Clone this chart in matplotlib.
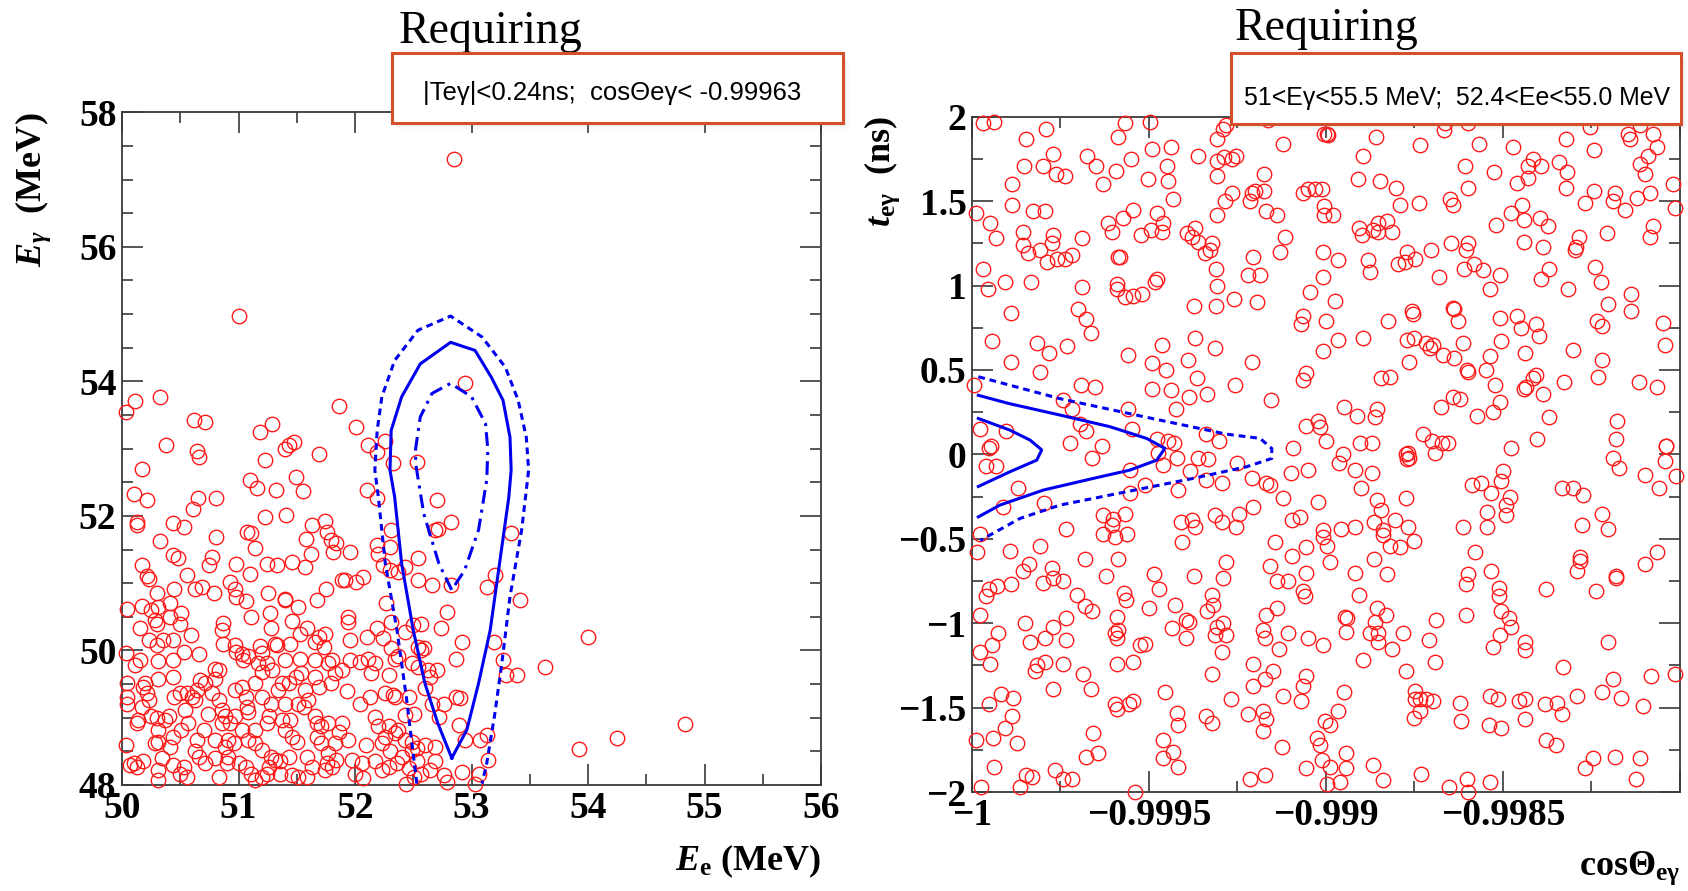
import numpy as np
import matplotlib
matplotlib.use('Agg')
from matplotlib import pyplot as plt
from matplotlib.patches import Rectangle
from matplotlib.ticker import MultipleLocator, FixedLocator, FuncFormatter

plt.rcParams['font.family'] = ['Liberation Serif', 'DejaVu Serif']
plt.rcParams['font.weight'] = 'bold'
plt.rcParams['axes.labelweight'] = 'bold'
plt.rcParams['mathtext.fontset'] = 'custom'
plt.rcParams['mathtext.rm'] = 'Liberation Serif:bold'
plt.rcParams['mathtext.it'] = 'Liberation Serif:italic:bold'
plt.rcParams['mathtext.bf'] = 'Liberation Serif:bold'

# ---- Ee vs Egamma events (left) ----
ee_eg_sparse = [(52.85, 57.30), (51.00, 54.97), (50.11, 53.71), (50.03, 53.54), (50.33, 53.76),
                (50.62, 53.43), (50.71, 53.40), (51.29, 53.36), (51.86, 53.63), (52.01, 53.32),
                (52.94, 53.98), (54.00, 50.20), (53.92, 48.54), (54.25, 48.70), (54.83, 48.90)]

ee_eg_upper = [(50.38, 53.06), (50.64, 52.97), (50.66, 52.87), (50.17, 52.69), (51.18, 53.25), (51.43, 53.05),
               (51.48, 53.10), (51.40, 53.00), (51.23, 52.83), (51.69, 52.92), (51.10, 52.53), (51.16, 52.41),
               (51.32, 52.38), (51.49, 52.58), (51.55, 52.37), (50.10, 52.32), (50.21, 52.23), (50.81, 52.27),
               (50.65, 52.26), (50.61, 52.10), (50.13, 51.91), (50.13, 51.87), (50.44, 51.90), (50.53, 51.83),
               (51.23, 51.99), (51.41, 52.01), (51.63, 51.86), (51.74, 51.92), (51.76, 51.76), (51.79, 51.64),
               (51.81, 51.47), (51.58, 51.66), (51.62, 51.44), (51.07, 51.76), (51.11, 51.74), (51.14, 51.53),
               (50.33, 51.62), (50.81, 51.69), (50.44, 51.42), (50.48, 51.37), (50.77, 51.39), (50.75, 51.27),
               (50.17, 51.27), (50.21, 51.10), (50.23, 51.06), (50.56, 51.12), (50.98, 51.29), (51.10, 51.13),
               (51.24, 51.29), (51.33, 51.27), (51.46, 51.32), (51.57, 51.24)]

ee_eg_middle = [(50.63, 50.91), (50.69, 50.95), (50.79, 50.86), (50.45, 50.91), (50.30, 50.85), (50.93, 51.02),
                (50.97, 50.91), (50.98, 50.80), (51.06, 50.74), (51.25, 50.85), (51.40, 50.77), (51.40, 50.75),
                (51.51, 50.65), (51.67, 50.75), (51.75, 50.92), (51.89, 51.05), (50.04, 50.62), (50.17, 50.66),
                (50.25, 50.60), (50.31, 50.65), (50.41, 50.70), (50.28, 50.45), (50.30, 50.40), (50.41, 50.50),
                (50.51, 50.55), (50.50, 50.40), (50.15, 50.34), (50.23, 50.16), (50.30, 50.08), (50.35, 50.16),
                (50.44, 50.16), (50.59, 50.23), (50.87, 50.41), (50.86, 50.31), (50.87, 50.10), (51.11, 50.49),
                (51.27, 50.55), (51.28, 50.33), (51.46, 50.44), (51.59, 50.34), (51.53, 50.25), (51.31, 50.10),
                (51.33, 50.08), (51.44, 50.10), (51.66, 50.13), (51.69, 50.20), (51.73, 50.05), (51.74, 50.25),
                (50.03, 49.96), (50.11, 49.78), (50.15, 49.86), (50.31, 49.85), (50.44, 49.86), (50.53, 49.98),
                (50.66, 49.95), (50.97, 50.08), (50.98, 49.98), (51.03, 49.95), (51.04, 49.86), (51.08, 49.91),
                (51.18, 50.06), (51.20, 49.96), (51.17, 49.82), (51.24, 49.81), (51.40, 49.86), (51.53, 49.88),
                (51.66, 49.86), (51.77, 49.81)]

ee_eg_lower = [(50.04, 49.51), (50.04, 49.31), (50.04, 49.21), (50.03, 48.59), (50.10, 48.32), (50.07, 48.30),
               (50.18, 48.35), (50.13, 48.27), (50.20, 49.51), (50.21, 49.36), (50.23, 49.26), (50.17, 49.16),
               (50.18, 49.46), (50.14, 48.97), (50.13, 48.92), (50.25, 49.02), (50.30, 48.99), (50.31, 49.58),
               (50.44, 49.61), (50.45, 49.31), (50.50, 49.36), (50.31, 48.82), (50.37, 48.97), (50.40, 49.02),
               (50.31, 48.64), (50.28, 48.62), (50.56, 49.36), (50.60, 49.31), (50.63, 49.26), (50.64, 49.41),
               (50.54, 49.11), (50.57, 48.92), (50.51, 48.82), (50.44, 48.72), (50.41, 48.57), (50.34, 48.40),
               (50.44, 48.30), (50.50, 48.17), (50.56, 48.12), (50.53, 48.27), (50.31, 48.22), (50.31, 48.07),
               (50.67, 49.56), (50.71, 49.51), (50.80, 49.73), (50.83, 49.71), (50.80, 49.58), (50.77, 49.36),
               (50.83, 49.26), (50.86, 49.11), (50.88, 49.02), (50.86, 48.92), (50.74, 49.06), (50.70, 48.82),
               (50.64, 48.67), (50.63, 48.50), (50.66, 48.42), (50.71, 48.32), (50.80, 48.40), (50.83, 48.12),
               (50.90, 48.32), (50.88, 48.57), (50.91, 48.67), (50.80, 48.67), (50.97, 49.41), (51.03, 49.46),
               (51.06, 49.31), (51.07, 49.16), (51.08, 49.09), (51.03, 48.82), (51.08, 48.67), (51.14, 48.62),
               (51.06, 48.27), (51.11, 48.17), (51.14, 48.07), (51.20, 48.12), (51.24, 48.17), (51.26, 48.27),
               (51.20, 49.68), (51.29, 49.71), (51.37, 49.51), (51.34, 49.41), (51.43, 49.51), (51.49, 49.61),
               (51.54, 49.66), (51.40, 49.21), (51.37, 48.97), (51.44, 48.97), (51.40, 48.82), (51.46, 48.72),
               (51.50, 48.64), (51.43, 48.42), (51.36, 48.35), (51.36, 48.17), (51.46, 48.15), (51.51, 48.12),
               (51.59, 48.12), (51.63, 48.27), (51.59, 48.42), (51.51, 49.21), (51.56, 49.16), (51.60, 49.26),
               (51.57, 49.41), (51.66, 49.61), (51.69, 49.46), (51.66, 49.02), (51.67, 48.92), (51.71, 48.87),
               (51.77, 48.92), (51.67, 48.72), (51.71, 48.62), (51.77, 48.47), (51.76, 48.32), (51.74, 48.22),
               (51.80, 48.27), (51.84, 48.37), (51.83, 48.62), (51.86, 48.79), (51.89, 48.92), (51.79, 49.51),
               (51.83, 49.66), (51.89, 49.71), (51.80, 49.86), (51.14, 49.51), (51.20, 49.31), (51.28, 49.21),
               (51.26, 49.02), (51.24, 48.92), (51.14, 48.82), (51.20, 48.52), (51.28, 48.42), (51.31, 48.37),
               (50.93, 48.92), (50.97, 49.02), (50.96, 48.62), (50.91, 48.42), (51.00, 48.32)]

ee_eg_signal = [(52.11, 53.05), (52.19, 52.95), (52.26, 53.12), (52.33, 52.78), (52.53, 52.80), (52.10, 52.38),
                (52.19, 52.26), (52.70, 52.23), (52.69, 51.79), (52.71, 51.81), (52.82, 51.91), (52.31, 51.79),
                (52.19, 51.56), (52.20, 51.44), (52.30, 51.54), (52.24, 51.27), (52.30, 51.19), (52.37, 51.17),
                (52.43, 51.24), (51.84, 51.59), (51.96, 51.47), (51.91, 51.04), (52.01, 51.02), (52.07, 51.09),
                (52.54, 51.37), (52.54, 51.04), (52.66, 50.97), (52.82, 50.97), (53.34, 51.74), (53.20, 51.12),
                (53.13, 50.95), (53.42, 50.75), (52.27, 50.70), (52.79, 50.57), (51.94, 50.50), (51.94, 50.43),
                (52.31, 50.43), (52.50, 50.38), (52.57, 50.40), (52.43, 50.28), (51.96, 50.15), (52.10, 50.20),
                (52.19, 50.33), (52.24, 50.18), (52.31, 50.03), (52.37, 49.91), (52.54, 50.05), (52.59, 50.03),
                (52.57, 50.00), (52.74, 50.33), (52.92, 50.13), (52.87, 49.88), (53.19, 50.13), (53.27, 49.86),
                (53.30, 49.63), (53.39, 49.63), (53.63, 49.76), (51.96, 49.86), (52.04, 49.83), (52.11, 49.88),
                (52.17, 49.81), (52.14, 49.66), (52.29, 49.63), (52.34, 49.88), (52.49, 49.81), (52.54, 49.76),
                (52.63, 49.71), (52.70, 49.71), (52.64, 49.61), (51.93, 49.39), (52.04, 49.21), (52.13, 49.31),
                (52.26, 49.36), (52.33, 49.34), (52.34, 49.31), (52.46, 49.31), (52.60, 49.44), (52.76, 49.21),
                (52.87, 49.31), (52.90, 49.29), (52.66, 49.21), (52.72, 49.01), (52.51, 49.06), (52.43, 49.04),
                (51.94, 48.67), (52.09, 48.59), (52.17, 49.01), (52.20, 48.87), (52.29, 48.87), (52.34, 48.77),
                (52.37, 48.82), (52.26, 48.72), (52.23, 48.62), (52.30, 48.50), (52.43, 48.67), (52.49, 48.64),
                (52.49, 48.52), (52.53, 48.55), (52.60, 48.59), (52.69, 48.57), (52.89, 48.89), (52.94, 48.67),
                (53.07, 48.67), (53.13, 48.74), (53.14, 48.37), (51.97, 48.37), (52.06, 48.32), (52.00, 48.17),
                (52.07, 48.10), (52.17, 48.35), (52.23, 48.22), (52.29, 48.27), (52.36, 48.32), (52.40, 48.42),
                (52.46, 48.25), (52.53, 48.35), (52.51, 48.12), (52.44, 48.02), (52.57, 48.17), (52.64, 48.22),
                (52.69, 48.35), (52.76, 48.15), (52.79, 48.05), (52.92, 48.20), (53.06, 48.17), (53.03, 48.02)]

# signal PDF contours in (Ee, Egamma)
sig_outer = [(52.53, 48.02), (52.44, 49.31), (52.36, 50.30), (52.26, 51.29), (52.20, 52.28), (52.17, 52.68),
             (52.19, 53.27), (52.23, 53.77), (52.34, 54.31), (52.54, 54.76), (52.82, 54.97), (53.09, 54.66),
             (53.29, 54.21), (53.40, 53.72), (53.47, 53.17), (53.49, 52.68), (53.43, 51.79), (53.33, 50.80),
             (53.26, 49.81), (53.20, 49.06), (53.13, 48.32), (53.09, 48.02)]
sig_middle = [(52.83, 48.40), (52.71, 48.92), (52.60, 49.51), (52.50, 50.30), (52.40, 51.29), (52.34, 52.28),
              (52.30, 52.68), (52.31, 53.27), (52.40, 53.77), (52.56, 54.26), (52.82, 54.58), (53.03, 54.46),
              (53.17, 54.06), (53.27, 53.72), (53.33, 53.17), (53.34, 52.68), (53.32, 52.28), (53.24, 51.29),
              (53.16, 50.30), (53.06, 49.51), (52.96, 48.82), (52.83, 48.40)]
sig_inner = [(52.83, 50.90), (52.72, 51.29), (52.59, 52.03), (52.52, 52.78), (52.52, 53.00), (52.56, 53.47),
             (52.66, 53.82), (52.82, 53.97), (53.00, 53.77), (53.12, 53.37), (53.14, 52.98), (53.13, 52.53),
             (53.06, 51.79), (52.94, 51.19), (52.83, 50.90)]

# ---- cos(theta) vs t events (right) ----
ct_upper_left = [(-0.999970, 1.96), (-0.999937, 1.97), (-0.999847, 1.87), (-0.999791, 1.93), (-0.999770, 1.78),
                 (-0.999798, 1.71), (-0.999853, 1.71), (-0.999763, 1.66), (-0.999737, 1.65), (-0.999888, 1.60),
                 (-0.999888, 1.48), (-0.999989, 1.43), (-0.999949, 1.37), (-0.999932, 1.28), (-0.999827, 1.44),
                 (-0.999794, 1.44), (-0.999855, 1.32), (-0.999855, 1.24), (-0.999841, 1.19), (-0.999808, 1.21),
                 (-0.999770, 1.30), (-0.999775, 1.25), (-0.999787, 1.14), (-0.999761, 1.16), (-0.999737, 1.16),
                 (-0.999718, 1.18), (-0.999690, 1.28), (-0.999970, 1.10), (-0.999956, 0.98), (-0.999907, 1.02),
                 (-0.999833, 1.02), (-0.999890, 0.84), (-0.999942, 0.67), (-0.999890, 0.55), (-0.999817, 0.66),
                 (-0.999782, 0.60), (-0.999808, 0.49), (-0.999731, 0.64), (-0.999994, 0.41), (-0.999690, 0.99),
                 (-0.999699, 0.86), (-0.999678, 0.80), (-0.999664, 0.72), (-0.999692, 0.41), (-0.999653, 0.40),
                 (-0.999742, 0.32), (-0.999716, 0.27), (-0.999695, 0.18), (-0.999678, 0.14), (-0.999977, 0.15),
                 (-0.999904, 0.14), (-0.999947, 0.05), (-0.999723, 0.07), (-0.999634, 0.05), (-0.999676, 1.77),
                 (-0.999650, 1.71), (-0.999629, 1.60), (-0.999593, 1.68), (-0.999587, 1.88), (-0.999568, 1.96),
                 (-0.999552, 1.75), (-0.999615, 1.37), (-0.999604, 1.32), (-0.999573, 1.40), (-0.999544, 1.45),
                 (-0.999588, 1.17), (-0.999582, 1.17), (-0.999590, 1.01), (-0.999591, 0.98), (-0.999568, 0.93),
                 (-0.999544, 0.94), (-0.999521, 0.95), (-0.999523, 1.30), (-0.999494, 1.33), (-0.999502, 1.63),
                 (-0.999490, 1.81), (-0.999497, 1.97), (-0.999478, 1.43), (-0.999461, 1.37), (-0.999462, 1.32),
                 (-0.999478, 1.04), (-0.999483, 1.02), (-0.999445, 1.62), (-0.999448, 1.71), (-0.999439, 1.82),
                 (-0.999431, 1.51), (-0.999558, 0.59), (-0.999492, 0.54), (-0.999453, 0.50), (-0.999464, 0.65),
                 (-0.999490, 0.39), (-0.999439, 0.38), (-0.999558, 0.27), (-0.999549, 0.15), (-0.999478, 0.09),
                 (-0.999445, 0.08), (-0.999392, 1.31), (-0.999369, 1.34), (-0.999378, 1.29), (-0.999360, 1.26),
                 (-0.999341, 1.19), (-0.999328, 1.21), (-0.999323, 1.25), (-0.999428, 0.07), (-0.999389, 0.56),
                 (-0.999370, 0.69), (-0.999363, 0.45), (-0.999337, 0.36), (-0.999386, 0.34), (-0.999424, 0.27),
                 (-0.999339, 0.12), (-0.999301, 0.08), (-0.999361, 1.77), (-0.999309, 1.65), (-0.999309, 1.74),
                 (-0.999288, 1.76), (-0.999264, 1.75), (-0.999253, 1.77), (-0.999307, 1.87), (-0.999290, 1.93),
                 (-0.999281, 1.95), (-0.999309, 1.42), (-0.999286, 1.50), (-0.999266, 1.55), (-0.999311, 1.10),
                 (-0.999307, 1.00), (-0.999311, 0.88), (-0.999259, 0.92), (-0.999312, 0.63), (-0.999257, 0.41),
                 (-0.999372, 0.88), (-0.999215, 1.50), (-0.999208, 1.55), (-0.999201, 1.56), (-0.999175, 1.56),
                 (-0.999175, 1.66), (-0.999168, 1.44), (-0.999139, 1.42), (-0.999205, 1.17), (-0.999130, 1.20),
                 (-0.999116, 1.29), (-0.999219, 1.06), (-0.999186, 1.06), (-0.999196, 0.90), (-0.999210, 0.55),
                 (-0.999156, 0.32), (-0.999163, 1.98), (-0.999122, 1.84), (-0.999064, 1.55), (-0.999050, 1.57),
                 (-0.999031, 1.57), (-0.999012, 1.57), (-0.999064, 0.82), (-0.999069, 0.77), (-0.999045, 0.96),
                 (-0.999008, 1.05), (-0.999008, 1.20), (-0.999008, 0.61), (-0.999064, 0.44), (-0.999055, 0.48),
                 (-0.999055, 0.17), (-0.999022, 0.20), (-0.999017, 0.16), (-0.999092, 0.04), (-0.999006, 1.90),
                 (-0.999006, 1.47), (-0.999006, 1.42)]

ct_upper_right = [(-0.998998, 1.90), (-0.998993, 1.89), (-0.998859, 1.88), (-0.998895, 1.77), (-0.998909, 1.63),
                  (-0.998847, 1.62), (-0.998802, 1.58), (-0.998791, 1.48), (-0.998736, 1.49), (-0.998734, 1.83),
                  (-0.998664, 1.96), (-0.998667, 1.92), (-0.998598, 1.96), (-0.998607, 1.71), (-0.998600, 1.58),
                  (-0.998649, 1.51), (-0.998642, 1.48), (-0.998567, 1.84), (-0.998525, 1.67), (-0.998471, 1.82),
                  (-0.998461, 1.61), (-0.998428, 1.64), (-0.998428, 1.71), (-0.998414, 1.75), (-0.998391, 1.71),
                  (-0.998477, 1.43), (-0.998447, 1.48), (-0.998441, 1.39), (-0.998395, 1.40), (-0.998374, 1.35),
                  (-0.998520, 1.36), (-0.998441, 1.26), (-0.998388, 1.23), (-0.998341, 1.73), (-0.998318, 1.67),
                  (-0.998322, 1.87), (-0.998323, 1.58), (-0.998243, 1.56), (-0.998267, 1.49), (-0.998254, 1.94),
                  (-0.998242, 1.80), (-0.998183, 1.55), (-0.998188, 1.50), (-0.998155, 1.45), (-0.998122, 1.52),
                  (-0.998085, 1.55), (-0.998146, 1.90), (-0.998141, 1.87), (-0.998113, 1.95), (-0.998077, 1.90),
                  (-0.998066, 1.82), (-0.998089, 1.77), (-0.998113, 1.72), (-0.998099, 1.66), (-0.998019, 1.60),
                  (-0.998014, 1.46), (-0.998075, 1.35), (-0.998085, 1.29), (-0.998207, 1.31), (-0.998284, 1.29),
                  (-0.998294, 1.23), (-0.998297, 1.21), (-0.998979, 1.42), (-0.998906, 1.34), (-0.998899, 1.30),
                  (-0.998866, 1.33), (-0.998852, 1.37), (-0.998852, 1.32), (-0.998828, 1.38), (-0.998812, 1.32),
                  (-0.998965, 1.15), (-0.998880, 1.15), (-0.998876, 1.08), (-0.998796, 1.13), (-0.998777, 1.14),
                  (-0.998772, 1.20), (-0.998749, 1.16), (-0.998702, 1.21), (-0.998647, 1.25), (-0.998598, 1.25),
                  (-0.998603, 1.21), (-0.998680, 1.05), (-0.998610, 1.10), (-0.998581, 1.13), (-0.998557, 1.09),
                  (-0.998508, 1.06), (-0.998536, 0.98), (-0.998391, 1.04), (-0.998369, 1.10), (-0.998315, 0.98),
                  (-0.998240, 1.11), (-0.998223, 1.02), (-0.998975, 0.91), (-0.999000, 0.79), (-0.998824, 0.79),
                  (-0.998758, 0.85), (-0.998753, 0.83), (-0.998640, 0.87), (-0.998637, 0.86), (-0.998626, 0.79),
                  (-0.998508, 0.81), (-0.998461, 0.82), (-0.998449, 0.75), (-0.998407, 0.77), (-0.998399, 0.70),
                  (-0.998202, 0.89), (-0.998137, 0.95), (-0.998137, 0.85), (-0.998235, 0.79), (-0.998219, 0.76),
                  (-0.998047, 0.78), (-0.998042, 0.65), (-0.998965, 0.68), (-0.998896, 0.69), (-0.998772, 0.68),
                  (-0.998751, 0.69), (-0.998716, 0.66), (-0.998706, 0.63), (-0.998698, 0.65), (-0.998612, 0.66),
                  (-0.998506, 0.67), (-0.998438, 0.60), (-0.998669, 0.59), (-0.998638, 0.57), (-0.998765, 0.55),
                  (-0.998602, 0.50), (-0.998600, 0.49), (-0.998548, 0.50), (-0.998537, 0.58), (-0.998523, 0.41),
                  (-0.998843, 0.45), (-0.998820, 0.46), (-0.998440, 0.39), (-0.998435, 0.40), (-0.998414, 0.45),
                  (-0.998407, 0.47), (-0.998386, 0.36), (-0.998327, 0.43), (-0.998303, 0.62), (-0.998219, 0.56),
                  (-0.998231, 0.46), (-0.998116, 0.43), (-0.998064, 0.40), (-0.998675, 0.28), (-0.998642, 0.34),
                  (-0.998620, 0.33), (-0.998508, 0.31), (-0.998527, 0.25), (-0.998574, 0.23), (-0.998949, 0.28),
                  (-0.998911, 0.23), (-0.998857, 0.27), (-0.998862, 0.22), (-0.999000, 0.08), (-0.998904, 0.07),
                  (-0.998871, 0.07), (-0.998725, 0.12), (-0.998701, 0.08), (-0.998673, 0.07), (-0.998656, 0.07),
                  (-0.998767, 0.01), (-0.998477, 0.04), (-0.998405, 0.09), (-0.998369, 0.22), (-0.998179, 0.20),
                  (-0.998181, 0.09), (-0.998038, 0.05)]

ct_lower_left = [(-0.999951, 0.04), (-0.999959, -0.07), (-0.999932, -0.07), (-0.999869, -0.20), (-0.999911, -0.31),
                 (-0.999797, -0.29), (-0.999734, -0.44), (-0.999662, -0.02), (-0.999554, -0.09), (-0.999554, -0.23),
                 (-0.999511, -0.18), (-0.999474, 0.01), (-0.999460, -0.06), (-0.999422, -0.02), (-0.999417, -0.21),
                 (-0.999384, -0.10), (-0.999361, -0.02), (-0.999339, -0.15), (-0.999332, -0.03), (-0.999295, -0.17),
                 (-0.999252, -0.05), (-0.999210, -0.14), (-0.999168, -0.17), (-0.999158, -0.18), (-0.999099, -0.11),
                 (-0.999050, -0.09), (-0.999022, -0.28), (-0.999121, -0.26), (-0.999629, -0.36), (-0.999601, -0.38),
                 (-0.999605, -0.42), (-0.999568, -0.35), (-0.999629, -0.47), (-0.999596, -0.49), (-0.999563, -0.47),
                 (-0.999808, -0.54), (-0.999893, -0.57), (-0.999987, -0.58), (-0.999977, -0.47), (-0.999410, -0.40),
                 (-0.999379, -0.39), (-0.999370, -0.43), (-0.999408, -0.52), (-0.999314, -0.36), (-0.999295, -0.40),
                 (-0.999245, -0.35), (-0.999254, -0.43), (-0.999207, -0.31), (-0.999097, -0.39), (-0.999073, -0.37),
                 (-0.999144, -0.52), (-0.999008, -0.45), (-0.999008, -0.49), (-0.998998, -0.54), (-0.999097, -0.60),
                 (-0.999055, -0.55), (-0.999681, -0.62), (-0.999587, -0.62), (-0.999838, -0.65), (-0.999855, -0.69),
                 (-0.999775, -0.67), (-0.999742, -0.75), (-0.999798, -0.76), (-0.999772, -0.73), (-0.999891, -0.77),
                 (-0.999930, -0.78), (-0.999951, -0.80), (-0.999959, -0.84), (-0.999621, -0.72), (-0.999704, -0.83),
                 (-0.999681, -0.90), (-0.999660, -0.93), (-0.999485, -0.71), (-0.999471, -0.80), (-0.999570, -0.82),
                 (-0.999566, -0.86), (-0.999499, -0.91), (-0.999427, -0.89), (-0.999372, -0.72), (-0.999290, -0.73),
                 (-0.999281, -0.64), (-0.999323, -0.83), (-0.999318, -0.89), (-0.999337, -0.93), (-0.999394, -0.98),
                 (-0.999386, -0.99), (-0.999436, -1.03), (-0.999394, -1.09), (-0.999309, -1.02), (-0.999290, -1.00),
                 (-0.999282, -1.07), (-0.999295, -1.17), (-0.999314, -1.07), (-0.999323, -1.30), (-0.999158, -0.66),
                 (-0.999139, -0.75), (-0.999106, -0.75), (-0.999139, -0.91), (-0.999168, -0.95), (-0.999179, -1.04),
                 (-0.999172, -1.09), (-0.999132, -1.15), (-0.999106, -1.06), (-0.999064, -0.81), (-0.999055, -0.70),
                 (-0.999060, -0.84), (-0.999050, -1.09), (-0.999008, -1.13), (-0.999205, -1.24), (-0.999205, -1.37),
                 (-0.999172, -1.33), (-0.999149, -1.28), (-0.999121, -1.43), (-0.999064, -1.37), (-0.999055, -1.31),
                 (-0.999069, -1.46), (-0.999268, -1.45), (-0.999219, -1.54), (-0.999177, -1.52), (-0.999168, -1.57),
                 (-0.999177, -1.64), (-0.999125, -1.73), (-0.999215, -1.92), (-0.999172, -1.90), (-0.999055, -1.86),
                 (-0.999026, -1.68), (-0.999017, -1.72), (-0.999012, -1.81), (-0.999003, -1.58), (-0.998998, -1.95),
                 (-0.999339, -1.55), (-0.999323, -1.59), (-0.999422, -1.53), (-0.999417, -1.60), (-0.999455, -1.41),
                 (-0.999461, -1.69), (-0.999431, -1.76), (-0.999460, -1.80), (-0.999419, -1.85), (-0.999540, -2.00),
                 (-0.999596, -1.48), (-0.999591, -1.51), (-0.999556, -1.48), (-0.999544, -1.46), (-0.999591, -1.24),
                 (-0.999544, -1.23), (-0.999596, -1.06), (-0.999591, -1.09), (-0.999587, -1.04), (-0.999525, -1.13),
                 (-0.999511, -1.12), (-0.999591, -0.96), (-0.999687, -1.30), (-0.999664, -1.39), (-0.999770, -1.39),
                 (-0.999659, -1.65), (-0.999678, -1.79), (-0.999643, -1.77), (-0.999766, -1.87), (-0.999744, -1.92),
                 (-0.999718, -1.92), (-0.999846, -1.90), (-0.999831, -1.91), (-0.999864, -1.97), (-0.999937, -1.85),
                 (-0.999975, -1.97), (-0.999989, -1.69), (-0.999940, -1.68), (-0.999907, -1.62), (-0.999872, -1.71),
                 (-0.999888, -1.55), (-0.999918, -1.42), (-0.999883, -1.44), (-0.999951, -1.48), (-0.999817, -1.25),
                 (-0.999822, -1.28), (-0.999794, -1.23), (-0.999744, -1.24), (-0.999850, -1.00), (-0.999836, -1.11),
                 (-0.999794, -1.09), (-0.999770, -1.02), (-0.999733, -0.97), (-0.999733, -1.10), (-0.999977, -1.17),
                 (-0.999944, -1.13), (-0.999949, -1.24), (-0.999926, -1.06), (-0.999976, -0.95)]

ct_lower_right = [(-0.998951, 0.00), (-0.998962, -0.05), (-0.998918, -0.09), (-0.998871, -0.11), (-0.998902, -0.20),
                  (-0.998774, 0.00), (-0.998770, -0.03), (-0.998764, -0.02), (-0.998692, 0.01), (-0.998855, -0.27),
                  (-0.998843, -0.33), (-0.998863, -0.40), (-0.998838, -0.45), (-0.998838, -0.48), (-0.998819, -0.54),
                  (-0.998805, -0.39), (-0.998791, -0.55), (-0.998767, -0.43), (-0.998751, -0.51), (-0.998774, -0.26),
                  (-0.998989, -0.64), (-0.998956, -0.44), (-0.998918, -0.43), (-0.998864, -0.62), (-0.998918, -0.70),
                  (-0.998828, -0.71), (-0.998906, -0.83), (-0.998855, -0.91), (-0.998830, -0.95), (-0.998861, -0.99),
                  (-0.998876, -1.06), (-0.998852, -1.06), (-0.998852, -1.11), (-0.998814, -1.15), (-0.998781, -1.06),
                  (-0.998946, -0.96), (-0.998940, -0.97), (-0.998943, -1.05), (-0.998895, -1.22), (-0.998774, -1.28),
                  (-0.998689, -0.98), (-0.998709, -1.10), (-0.998692, -1.23), (-0.998749, -1.40), (-0.998749, -1.45),
                  (-0.998735, -1.45), (-0.998718, -1.45), (-0.998697, -1.46), (-0.998751, -1.56), (-0.998734, -1.52),
                  (-0.998949, -1.41), (-0.998965, -1.52), (-0.998989, -1.60), (-0.998943, -1.77), (-0.998943, -1.86),
                  (-0.998989, -1.85), (-0.998866, -1.84), (-0.998838, -1.93), (-0.998959, -1.94), (-0.998732, -1.89),
                  (-0.998652, -1.97), (-0.998602, -1.92), (-0.998600, -2.00), (-0.998537, -1.94), (-0.998621, -1.47),
                  (-0.998617, -1.58), (-0.998537, -1.43), (-0.998514, -1.45), (-0.998539, -1.60), (-0.998504, -1.62),
                  (-0.998454, -1.46), (-0.998438, -1.45), (-0.998438, -1.57), (-0.998381, -1.48), (-0.998348, -1.47),
                  (-0.998334, -1.54), (-0.998377, -1.69), (-0.998350, -1.72), (-0.998290, -1.43), (-0.998221, -1.41),
                  (-0.998190, -1.33), (-0.998165, -1.44), (-0.998104, -1.49), (-0.998083, -1.31), (-0.998014, -1.30),
                  (-0.998329, -1.26), (-0.998202, -1.11), (-0.998268, -1.86), (-0.998245, -1.80), (-0.998184, -1.79),
                  (-0.998113, -1.80), (-0.998124, -1.92), (-0.998600, -0.71), (-0.998603, -0.77), (-0.998534, -0.69),
                  (-0.998603, -0.95), (-0.998579, -0.58), (-0.998614, -0.43), (-0.998546, -0.34), (-0.998546, -0.43),
                  (-0.998504, -0.16), (-0.998499, -0.10), (-0.998535, -0.23), (-0.998480, -0.25), (-0.998490, -0.30),
                  (-0.998490, -0.36), (-0.998586, -0.18), (-0.998563, -0.17), (-0.998510, -0.79), (-0.998511, -0.84),
                  (-0.998504, -0.93), (-0.998482, -0.97), (-0.998478, -1.02), (-0.998508, -1.07), (-0.998527, -1.14),
                  (-0.998438, -1.11), (-0.998438, -1.16), (-0.998379, -0.80), (-0.998334, -0.20), (-0.998303, -0.20),
                  (-0.998273, -0.24), (-0.998276, -0.42), (-0.998221, -0.35), (-0.998202, -0.44), (-0.998282, -0.61),
                  (-0.998281, -0.63), (-0.998290, -0.69), (-0.998237, -0.81), (-0.998181, -0.72), (-0.998180, -0.73),
                  (-0.998190, -0.02), (-0.998172, -0.08), (-0.998100, -0.12), (-0.998058, -0.20), (-0.998042, -0.04),
                  (-0.998039, 0.05), (-0.998011, -0.13), (-0.998100, -0.65), (-0.998064, -0.58)]

# signal PDF contours in (cos, t)
tc_outer = [(-0.999982, 0.46), (-0.999751, 0.33), (-0.999507, 0.22), (-0.999281, 0.12), (-0.999186, 0.095),
            (-0.999153, 0.035), (-0.999153, -0.024), (-0.999224, -0.073), (-0.999375, -0.142), (-0.999563, -0.221),
            (-0.999751, -0.30), (-0.999864, -0.379), (-0.999977, -0.51)]
tc_middle = [(-0.999982, 0.35), (-0.999893, 0.30), (-0.999751, 0.233), (-0.999610, 0.164), (-0.999507, 0.095),
             (-0.999455, 0.036), (-0.999478, -0.034), (-0.999554, -0.093), (-0.999657, -0.142), (-0.999798, -0.211),
             (-0.999921, -0.30), (-0.999982, -0.37)]
tc_inner = [(-0.999982, 0.213), (-0.999893, 0.144), (-0.999836, 0.085), (-0.999808, 0.036), (-0.999803, 0.026),
            (-0.999817, -0.034), (-0.999893, -0.103), (-0.999982, -0.19)]

left_cuts = '|Teγ|<0.24ns;  cosΘeγ< -0.99963'
right_cuts = '51<Eγ<55.5 MeV;  52.4<Ee<55.0 MeV'


def minus(v, pos=None):
    return ('%g' % v).replace('-', '\u2212')


def style_axes(ax):
    for sp in ax.spines.values():
        sp.set_linewidth(1.3)
        sp.set_color('#3a3a3a')
    ax.tick_params(which='both', direction='in', top=True, right=True, color='#3a3a3a', width=1.2,
                   labelsize=27, pad=4)
    ax.tick_params(which='major', length=15)
    ax.tick_params(which='minor', length=8)
    for lab in ax.get_xticklabels() + ax.get_yticklabels():
        lab.set_fontweight('bold')


def draw_events(ax, groups):
    for g in groups:
        arr = np.array(g)
        ax.plot(arr[:, 0], arr[:, 1], 'o', ls='none', mfc='none', mec='#ff1a1a', ms=10.4, mew=1.0,
                clip_on=False, zorder=3)


def draw_contour(ax, pts, ls):
    arr = np.array(pts)
    ax.plot(arr[:, 0], arr[:, 1], color='#0000ee', lw=2.2, ls=ls, zorder=4)


fig = plt.figure(figsize=(16.88, 8.91), dpi=100)

# left panel
ax1 = fig.add_axes([0.0723, 0.119, 0.4141, 0.755])
draw_events(ax1, [ee_eg_sparse, ee_eg_upper, ee_eg_middle, ee_eg_lower, ee_eg_signal])
draw_contour(ax1, sig_outer, (0, (2.2, 1.6)))
draw_contour(ax1, sig_middle, '-')
draw_contour(ax1, sig_inner, (0, (4.5, 2.0, 1.0, 2.0)))
ax1.set_xlim(50, 56)
ax1.set_ylim(48, 58)
ax1.xaxis.set_major_locator(MultipleLocator(1))
ax1.xaxis.set_minor_locator(MultipleLocator(0.5))
ax1.yaxis.set_major_locator(MultipleLocator(2))
ax1.yaxis.set_minor_locator(MultipleLocator(0.5))
ax1.xaxis.set_major_formatter(FuncFormatter(minus))
ax1.yaxis.set_major_formatter(FuncFormatter(minus))
style_axes(ax1)
ax1.set_xlabel(r'$E_{\mathrm{e}}$ (MeV)', fontsize=26, loc='right')
ax1.xaxis.set_label_coords(1.0, -0.114)
ax1.xaxis.label.set_va('center')
ax1.set_ylabel(r'$E_{\gamma}$  (MeV)', fontsize=26, loc='top')
ax1.yaxis.set_label_coords(-0.127, 1.0)
ax1.yaxis.label.set_va('center')

# right panel
ax2 = fig.add_axes([0.5758, 0.111, 0.4194, 0.758])
draw_events(ax2, [ct_upper_left, ct_upper_right, ct_lower_left, ct_lower_right])
draw_contour(ax2, tc_outer, (0, (2.2, 1.6)))
draw_contour(ax2, tc_middle, '-')
draw_contour(ax2, tc_inner, '-')
ax2.set_xlim(-1.0, -0.998)
ax2.set_ylim(-2, 2)
ax2.xaxis.set_major_locator(FixedLocator([-1.0, -0.9995, -0.999, -0.9985, -0.998]))
ax2.xaxis.set_minor_locator(MultipleLocator(0.00025))
ax2.yaxis.set_major_locator(MultipleLocator(0.5))
ax2.yaxis.set_minor_locator(MultipleLocator(0.25))
ax2.xaxis.set_major_formatter(FuncFormatter(lambda v, p: '' if v > -0.99805 else minus(round(v, 5))))
ax2.yaxis.set_major_formatter(FuncFormatter(minus))
style_axes(ax2)
ax2.set_xlabel(r'cos$\Theta_{\mathrm{e\gamma}}$', fontsize=26, loc='right')
ax2.xaxis.set_label_coords(1.0, -0.113)
ax2.xaxis.label.set_va('center')
ax2.set_ylabel(r'$t_{\mathrm{e\gamma}}$  (ns)', fontsize=26, loc='top')
ax2.yaxis.set_label_coords(-0.127, 1.0)
ax2.yaxis.label.set_va('center')

# "Requiring" headers and cut boxes
box_font = ['Liberation Sans', 'DejaVu Sans']
for x0, y0, w, h, hx, hy, tx, ty, txt, fs in [
        (0.2322, 0.862, 0.2672, 0.0786, 0.2364, 0.9517, 0.2506, 0.8878, left_cuts, 18.5),
        (0.7293, 0.861, 0.2666, 0.0797, 0.7316, 0.9551, 0.7370, 0.8822, right_cuts, 17.9)]:
    fig.text(hx, hy, 'Requiring', fontsize=33, fontweight='normal', family=['Liberation Serif'],
             va='baseline', ha='left')
    for k, a in enumerate([0.10, 0.07, 0.04]):
        off = (k + 1) * 0.0012
        fig.add_artist(Rectangle((x0 + off, y0 - off * 1.9), w, h, transform=fig.transFigure,
                                 facecolor='#888888', edgecolor='none', alpha=a, zorder=8))
    fig.add_artist(Rectangle((x0, y0), w, h, transform=fig.transFigure, facecolor='white',
                             edgecolor='#d4502a', lw=2.2, zorder=9))
    fig.text(tx, ty, txt, fontsize=fs, fontweight='normal', family=box_font, va='baseline',
             ha='left', zorder=10)

fig.savefig('out.png', dpi=100)
